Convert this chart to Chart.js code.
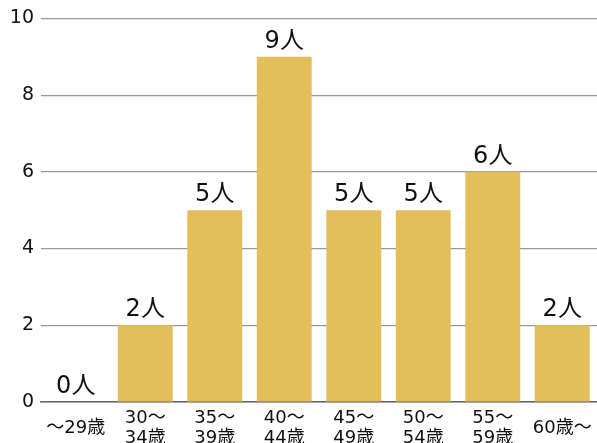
<!DOCTYPE html>
<html>
<head>
<meta charset="utf-8">
<script src="https://cdn.jsdelivr.net/npm/chart.js@4.4.1/dist/chart.umd.min.js"></script>
<style>
  html, body { margin: 0; padding: 0; background: #fff; overflow: hidden; }
  #wrap { width: 597px; height: 443px; position: relative; }
</style>
</head>
<body>
<div id="wrap"><canvas id="ageChart"></canvas></div>
<script>
    var categories = ['〜29歳', ['30〜', '34歳'], ['35〜', '39歳'], ['40〜', '44歳'], ['45〜', '49歳'], ['50〜', '54歳'], ['55〜', '59歳'], '60歳〜'];
    var counts = [0, 2, 5, 9, 5, 5, 6, 2];
    var yTicks = [0, 2, 4, 6, 8, 10];
    var unit = '人';

    var fontFamily = '"DejaVu Sans", "Noto Sans CJK JP", sans-serif';

    // value labels above each bar
    var barLabels = {
        id: 'barLabels',
        afterDatasetsDraw: function(chart) {
            var ctx = chart.ctx;
            var meta = chart.getDatasetMeta(0);
            ctx.save();
            ctx.font = '24px ' + fontFamily;
            ctx.fillStyle = '#111';
            ctx.textAlign = 'center';
            ctx.textBaseline = 'alphabetic';
            meta.data.forEach(function(bar, i) {
                ctx.fillText(counts[i] + unit, bar.x, bar.y - 9);
            });
            ctx.restore();
        }
    };

    var ctx = document.getElementById('ageChart').getContext('2d');
    var ageChart = new Chart(ctx, {
        type: 'bar',
        data: {
            labels: categories,
            datasets: [{
                data: counts,
                backgroundColor: '#E3BE5B',
                barPercentage: 0.79,
                categoryPercentage: 1.0
            }]
        },
        options: {
            responsive: true,
            maintainAspectRatio: false,
            animation: false,
            layout: { padding: { top: 11, right: 0, left: 0, bottom: 0 } },
            plugins: {
                legend: { display: false },
                tooltip: { enabled: false }
            },
            scales: {
                x: {
                    grid: { display: false, drawTicks: false },
                    border: { display: true, color: '#666', width: 1.5 },
                    ticks: {
                        color: '#111',
                        font: { family: fontFamily, size: 18, lineHeight: 1.12 },
                        padding: 16,
                        maxRotation: 0,
                        autoSkip: false,
                        crossAlign: 'center'
                    },
                    afterFit: function(scale) {
                        scale.height = 41;
                        scale.paddingLeft = 0;
                        scale.paddingRight = 0;
                    }
                },
                y: {
                    min: 0,
                    max: 10,
                    afterBuildTicks: function(scale) {
                        scale.ticks = yTicks.map(function(v) { return { value: v }; });
                    },
                    grid: { color: '#999', lineWidth: 1.2, drawTicks: false },
                    border: { display: false },
                    ticks: {
                        color: '#111',
                        font: { family: fontFamily, size: 19 },
                        padding: 7
                    },
                    afterFit: function(scale) { scale.width = 41; }
                }
            }
        },
        plugins: [barLabels]
    });
</script>
</body>
</html>
